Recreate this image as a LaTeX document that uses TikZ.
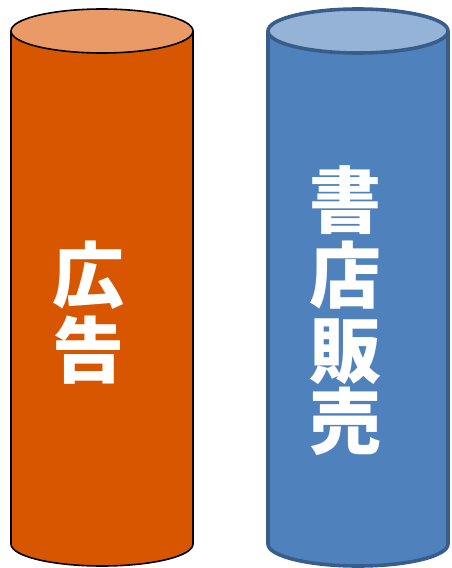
\documentclass[tikz,border=0pt]{standalone}
\usepackage{fontspec}
\newfontfamily\cjk{Noto Sans CJK JP}
\definecolor{orbody}{HTML}{D95600}
\definecolor{ortop}{HTML}{E99A66}
\definecolor{blbody}{HTML}{4F81BD}
\definecolor{bltop}{HTML}{95B3D7}
\definecolor{blline}{HTML}{385D8A}
\tikzset{
  glyph/.style={text=white, font=\cjk\bfseries\fontsize{72}{72}\selectfont, inner sep=0pt, text height=63.4pt, text depth=8.6pt, anchor=center},
  orline/.style={draw=black, line width=1.6pt},
  blline/.style={draw=blline, line width=3.6pt},
}
\begin{document}
\begin{tikzpicture}[x=1pt,y=1pt]
\useasboundingbox (0,0) rectangle (452,-568);
% left cylinder
\fill[orbody] (11,-31) -- (11,-544) arc[start angle=180,end angle=360,x radius=91,y radius=22] -- (193,-31) -- cycle;
\draw[orline] (11,-31) -- (11,-544) arc[start angle=180,end angle=360,x radius=91,y radius=22] -- (193,-31);
\draw[orline, fill=ortop] (102,-31) ellipse[x radius=91,y radius=22];
% right cylinder
\fill[blbody] (268,-31) -- (268,-544) arc[start angle=180,end angle=360,x radius=90,y radius=22] -- (448,-31) -- cycle;
\draw[blline, line join=round] (268,-31) -- (268,-544) arc[start angle=180,end angle=360,x radius=90,y radius=22] -- (448,-31);
\draw[blline, fill=bltop] (358,-31) ellipse[x radius=90,y radius=22];
% texts
\node[glyph] (k1) at (88,-275) {広};
\node[glyph] (k2) at (88,-350) {告};
\node[glyph] (s1) at (345,-200) {書};
\node[glyph] (s2) at (345,-275) {店};
\node[glyph] (s3) at (345,-350) {販};
\node[glyph] (s4) at (345,-421) {売};
\end{tikzpicture}
\end{document}
